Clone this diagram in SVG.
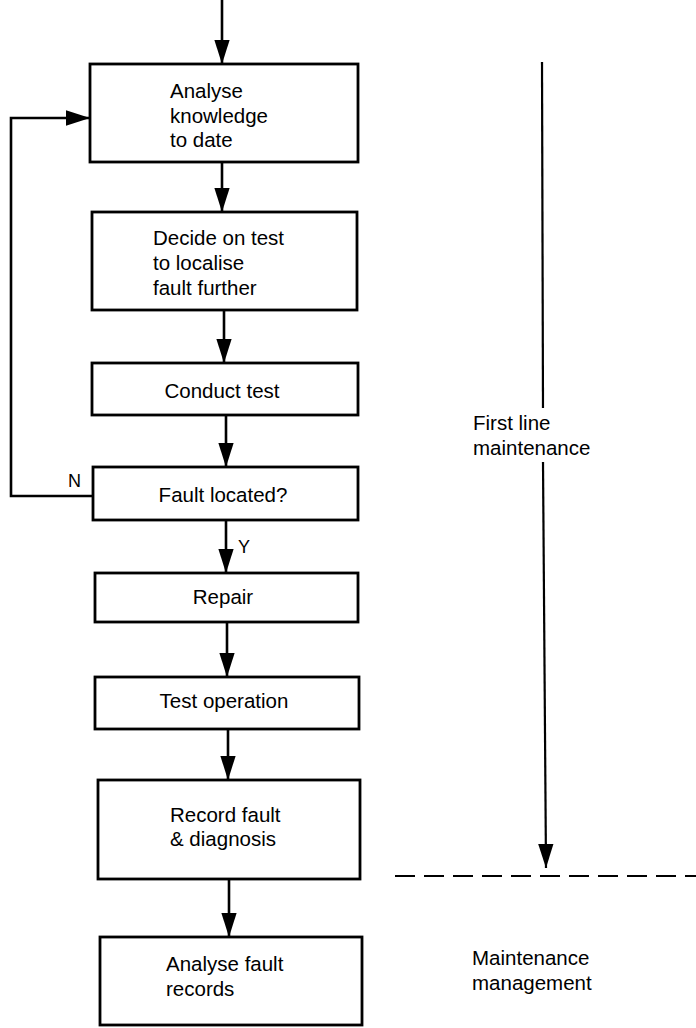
<svg xmlns="http://www.w3.org/2000/svg" width="696" height="1028" viewBox="0 0 696 1028">
<style>
.box{fill:#fff;stroke:#000;stroke-width:2.8}
.t{font-family:"Liberation Sans",Arial,sans-serif;font-size:20.5px;fill:#000}
.c{text-anchor:middle}
.ln{fill:none;stroke:#000;stroke-width:2.6}
.thin{fill:none;stroke:#000;stroke-width:2.2}
.dash{fill:none;stroke:#000;stroke-width:2;stroke-dasharray:20 9}
</style>
<defs>
<marker id="ah" markerUnits="userSpaceOnUse" markerWidth="24" markerHeight="16" viewBox="0 0 22 14" refX="22" refY="7" orient="auto">
<path d="M0,0 L22,7 L0,14 z" fill="#000"/>
</marker>
</defs>
<rect width="696" height="1028" fill="#fff"/>
<g id="connectors">
<line class="ln" x1="222" y1="0" x2="222" y2="64" marker-end="url(#ah)"/>
<line class="ln" x1="222" y1="162" x2="222" y2="212" marker-end="url(#ah)"/>
<line class="ln" x1="224" y1="310" x2="224" y2="363" marker-end="url(#ah)"/>
<line class="ln" x1="226" y1="415" x2="226" y2="467" marker-end="url(#ah)"/>
<polyline class="ln" points="93,496 11,496 11,118 90,118" marker-end="url(#ah)"/>
<line class="ln" x1="226" y1="520" x2="226" y2="573" marker-end="url(#ah)"/>
<line class="ln" x1="227" y1="622" x2="227" y2="677" marker-end="url(#ah)"/>
<line class="ln" x1="228" y1="729" x2="228" y2="780" marker-end="url(#ah)"/>
<line class="ln" x1="229" y1="879" x2="229" y2="937" marker-end="url(#ah)"/>
<text class="t" x="68" y="487" style="font-size:18px">N</text>
<text class="t" x="238" y="553" style="font-size:18px">Y</text>
</g>
<g id="n1"><rect class="box" x="90" y="64" width="268" height="98"/>
<text class="t" x="170" y="98">Analyse</text><text class="t" x="170" y="122.5">knowledge</text><text class="t" x="170" y="147">to date</text></g>
<g id="n2"><rect class="box" x="92" y="212" width="265" height="98"/>
<text class="t" x="153" y="245">Decide on test</text><text class="t" x="153" y="270">to localise</text><text class="t" x="153" y="295">fault further</text></g>
<g id="n3"><rect class="box" x="92" y="363" width="266" height="52"/>
<text class="t c" x="222" y="398">Conduct test</text></g>
<g id="n4"><rect class="box" x="93" y="467" width="265" height="53"/>
<text class="t c" x="223" y="502">Fault located?</text></g>
<g id="n5"><rect class="box" x="95" y="573" width="263" height="49"/>
<text class="t c" x="223" y="604">Repair</text></g>
<g id="n6"><rect class="box" x="95" y="677" width="264" height="52"/>
<text class="t c" x="224" y="708">Test operation</text></g>
<g id="n7"><rect class="box" x="98" y="780" width="262" height="99"/>
<text class="t" x="170" y="822">Record fault</text><text class="t" x="170" y="846">&amp; diagnosis</text></g>
<g id="n8"><rect class="box" x="100" y="937" width="262" height="88"/>
<text class="t" x="166" y="971">Analyse fault</text><text class="t" x="166" y="996">records</text></g>
<g id="scope">
<line class="thin" x1="542" y1="62" x2="543" y2="408"/>
<text class="t" x="473" y="430">First line</text>
<text class="t" x="473" y="455">maintenance</text>
<line class="thin" x1="543" y1="462" x2="546" y2="868" marker-end="url(#ah)"/>
<line class="dash" x1="395" y1="876" x2="696" y2="876"/>
<text class="t" x="472" y="965">Maintenance</text>
<text class="t" x="472" y="990">management</text>
</g>
</svg>
